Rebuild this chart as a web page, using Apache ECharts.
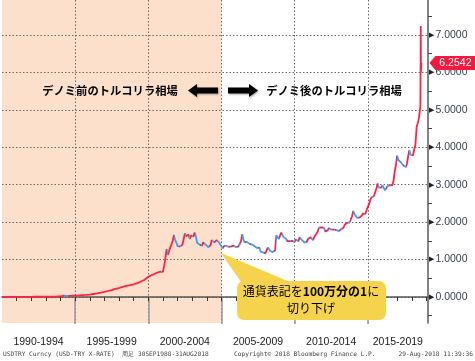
<!DOCTYPE html>
<html><head><meta charset="utf-8">
<script src="https://cdn.jsdelivr.net/npm/echarts@6/dist/echarts.min.js"></script>
<style>html,body{margin:0;padding:0;background:#fff}#c{width:475px;height:361px}</style>
</head><body><div id="c"></div>
<script>
// ---- data (USD/TRY, in new lira) ----
const dates = [
'1990-01','1990-04','1990-07','1990-10','1991-01','1991-04','1991-07','1991-10',
'1992-01','1992-04','1992-07','1992-10','1993-01','1993-04','1993-07','1993-10',
'1994-01','1994-04','1994-07','1994-10','1995-01','1995-04','1995-07','1995-10',
'1996-01','1996-04','1996-07','1996-10','1997-01','1997-04','1997-07','1997-10',
'1998-01','1998-04','1998-07','1998-10','1999-01','1999-04','1999-07','1999-10',
'2000-01','2000-02','2000-03','2000-04','2000-05','2000-06','2000-07','2000-08','2000-09','2000-10','2000-11','2000-12',
'2001-01','2001-02-15','2001-02-22','2001-03','2001-04','2001-05','2001-06','2001-07','2001-08','2001-09','2001-10','2001-11','2001-12',
'2002-01','2002-02','2002-03','2002-04','2002-05','2002-06','2002-07','2002-08','2002-09','2002-10','2002-11','2002-12',
'2003-01','2003-02','2003-03','2003-04','2003-05','2003-06','2003-07','2003-08','2003-09','2003-10','2003-11','2003-12',
'2004-01','2004-02','2004-03','2004-04','2004-05','2004-06','2004-07','2004-08','2004-09','2004-10','2004-11','2004-12',
'2005-01','2005-02','2005-03','2005-04','2005-05','2005-06','2005-07','2005-08','2005-09','2005-10','2005-11','2005-12',
'2006-01','2006-02','2006-03','2006-04','2006-05','2006-06','2006-07','2006-08','2006-09','2006-10','2006-11','2006-12',
'2007-01','2007-02','2007-03','2007-04','2007-05','2007-06','2007-07','2007-08','2007-09','2007-10','2007-11','2007-12',
'2008-01','2008-02','2008-03','2008-04','2008-05','2008-06','2008-07','2008-08','2008-09','2008-10','2008-11','2008-12',
'2009-01','2009-02','2009-03','2009-04','2009-05','2009-06','2009-07','2009-08','2009-09','2009-10','2009-11','2009-12',
'2010-01','2010-02','2010-03','2010-04','2010-05','2010-06','2010-07','2010-08','2010-09','2010-10','2010-11','2010-12',
'2011-01','2011-02','2011-03','2011-04','2011-05','2011-06','2011-07','2011-08','2011-09','2011-10','2011-11','2011-12',
'2012-01','2012-02','2012-03','2012-04','2012-05','2012-06','2012-07','2012-08','2012-09','2012-10','2012-11','2012-12',
'2013-01','2013-02','2013-03','2013-04','2013-05','2013-06','2013-07','2013-08','2013-09','2013-10','2013-11','2013-12',
'2014-01','2014-02','2014-03','2014-04','2014-05','2014-06','2014-07','2014-08','2014-09','2014-10','2014-11','2014-12',
'2015-01','2015-02','2015-03','2015-04','2015-05','2015-06','2015-07','2015-08','2015-09','2015-10','2015-11','2015-12',
'2016-01','2016-02','2016-03','2016-04','2016-05','2016-06','2016-07','2016-08','2016-09','2016-10','2016-11','2016-12',
'2017-01','2017-02','2017-03','2017-04','2017-05','2017-06','2017-07','2017-08','2017-09','2017-10','2017-11','2017-12',
'2018-01','2018-02','2018-03','2018-04','2018-05','2018-06','2018-07','2018-08-03','2018-08-10','2018-08-13','2018-08-17','2018-08-24','2018-08-29'
];
const usdtry = [
0.0023,0.0025,0.0026,0.0028,0.0030,0.0036,0.0040,0.0047,
0.0051,0.0061,0.0068,0.0075,0.0087,0.0096,0.0115,0.0130,
0.0150,0.0340,0.0315,0.0345,0.0390,0.0430,0.0500,0.0560,
0.0650,0.0800,0.0950,0.1150,0.1350,0.1600,0.1850,0.2150,
0.2400,0.2700,0.2950,0.3150,0.3400,0.3700,0.4150,0.4600,
0.54,0.56,0.57,0.59,0.60,0.61,0.63,0.64,0.66,0.67,0.68,0.67,
0.67,0.68,0.96,1.05,1.28,1.12,1.22,1.33,1.40,1.50,1.66,1.52,1.45,
1.36,1.35,1.35,1.33,1.40,1.55,1.70,1.62,1.65,1.67,1.55,1.64,
1.67,1.62,1.72,1.62,1.45,1.42,1.40,1.40,1.37,1.46,1.50,1.40,
1.38,1.33,1.31,1.38,1.52,1.48,1.46,1.50,1.52,1.48,1.46,1.40,
1.35,1.30,1.36,1.39,1.37,1.35,1.34,1.35,1.35,1.36,1.37,1.35,
1.33,1.32,1.35,1.33,1.50,1.68,1.53,1.46,1.51,1.47,1.46,1.42,
1.42,1.40,1.39,1.36,1.34,1.31,1.28,1.32,1.22,1.20,1.19,1.17,
1.17,1.21,1.32,1.28,1.23,1.22,1.20,1.17,1.25,1.65,1.60,1.55,
1.64,1.72,1.76,1.60,1.56,1.55,1.49,1.49,1.49,1.45,1.50,1.51,
1.47,1.54,1.53,1.49,1.59,1.57,1.52,1.51,1.45,1.42,1.48,1.55,
1.60,1.60,1.55,1.52,1.60,1.62,1.70,1.76,1.85,1.83,1.86,1.90,
1.85,1.75,1.78,1.78,1.84,1.81,1.80,1.79,1.80,1.79,1.79,1.78,
1.76,1.78,1.81,1.80,1.85,1.93,1.93,1.98,2.03,1.99,2.02,2.15,
2.30,2.22,2.20,2.12,2.08,2.12,2.14,2.17,2.23,2.24,2.22,2.33,
2.33,2.48,2.60,2.66,2.65,2.70,2.70,2.90,3.03,2.92,2.87,2.92,
2.98,2.93,2.85,2.83,2.95,2.92,2.99,2.95,2.98,3.09,3.35,3.52,
3.78,3.66,3.64,3.60,3.55,3.52,3.55,3.47,3.55,3.75,3.92,3.80,
3.76,3.78,3.94,4.06,4.55,4.65,4.80,5.10,6.43,7.24,6.02,6.05,6.2542
];
const yLabelValues = [0, 1, 2, 3, 4, 5, 6, 7];
const yMinorTicks = [-0.5, 0.5, 1.5, 2.5, 3.5, 4.5, 5.5, 6.5, 7.5];
const xPeriodStarts = [1990, 1995, 2000, 2005, 2010, 2015];
const xPeriodLabels = ['1990-1994', '1995-1999', '2000-2004', '2005-2009', '2010-2014', '2015-2019'];
const xMajorTicks = [1995, 2000, 2005, 2010, 2015];
const xYearTicks = [1991,1992,1993,1994,1995,1996,1997,1998,1999,2000,2001,2002,2003,2004,2005,2006,2007,2008,2009,2010,2011,2012,2013,2014,2015,2016,2017,2018,2019];
const lastPrice = 6.2542;
const redenomRange = [1990, 2005];

// ---- build ----
function toYear(s) {
  const p = s.split('-');
  const y = +p[0], m = +p[1], d = p[2] ? +p[2] : 1;
  return y + (m - 1) / 12 + (d - 1) / 365;
}
const xs = dates.map(toYear);
const seriesData = xs.map((x, i) => [x, usdtry[i]]);

// falling segments drawn in blue
const pieces = [];
let start = null;
for (let i = 1; i < xs.length; i++) {
  const falling = usdtry[i] < usdtry[i - 1];
  if (falling && start === null) start = xs[i - 1];
  if (!falling && start !== null) { pieces.push({ gte: start, lte: xs[i - 1], color: '#3f9ff0' }); start = null; }
}
if (start !== null) pieces.push({ gte: start, lte: xs[xs.length - 1], color: '#3f9ff0' });

const chart = echarts.init(document.getElementById('c'), null, { renderer: 'canvas' });
const dotted = { type: [1.5, 2], color: '#6a6a6a', width: 1 };
const jpFont = '"Noto Sans CJK JP", sans-serif';

chart.setOption({
  animation: false,
  backgroundColor: '#fff',
  grid: { left: 2, right: 47, top: 0, bottom: 38, containLabel: false },
  xAxis: [{
    type: 'value', min: 1990, max: 2019.11,
    axisLine: { show: true, lineStyle: { color: '#555', width: 1.5 } },
    axisTick: { show: true, customValues: xMajorTicks, length: 27, lineStyle: { color: '#999', width: 1.5 } },
    splitLine: { show: true, lineStyle: dotted },
    axisLabel: {
      customValues: xPeriodStarts, margin: 14, hideOverlap: false,
      formatter: v => {
        const i = xPeriodStarts.indexOf(v);
        return (i === xPeriodStarts.length - 1 ? '{b|' : '{a|') + xPeriodLabels[i] + '}';
      },
      rich: {
        a: { fontSize: 10.5, color: '#222', fontFamily: 'Liberation Sans', padding: [0, 0, 0, 73] },
        b: { fontSize: 10.5, color: '#222', fontFamily: 'Liberation Sans', padding: [0, 0, 0, 60] }
      }
    }
  }, {
    type: 'value', min: 1990, max: 2019.11, position: 'bottom',
    axisLine: { show: false },
    axisTick: { show: true, customValues: xYearTicks, length: 4, lineStyle: { color: '#333', width: 1 } },
    axisLabel: { show: false }, splitLine: { show: false }
  }],
  yAxis: [{
    type: 'value', position: 'right', min: -0.695, max: 7.935,
    axisLine: { show: true, lineStyle: { color: '#5a5a5a', width: 1.5 } },
    axisTick: { show: false, customValues: yLabelValues },
    splitLine: { show: true, lineStyle: dotted },
    axisLabel: {
      customValues: yLabelValues, margin: 1,
      formatter: v => '{t|▶}{v|' + v.toFixed(4) + '}',
      rich: {
        t: { fontSize: 7, color: '#222', fontFamily: 'DejaVu Sans', padding: [0, 1, 0, 0] },
        v: { fontSize: 10.5, color: '#3a4352', fontFamily: 'Liberation Sans' }
      }
    }
  }, {
    type: 'value', position: 'right', min: -0.695, max: 7.935,
    axisLine: { show: false },
    axisTick: { show: true, inside: false, customValues: yMinorTicks, length: 4, lineStyle: { color: '#444' } },
    axisLabel: { show: false }, splitLine: { show: false }
  }],
  visualMap: {
    type: 'piecewise', show: false, dimension: 0, seriesIndex: 1,
    pieces: pieces, outOfRange: { color: '#ff2244' }
  },
  series: [{
    type: 'line', data: [], z: -1, silent: true,
    markArea: {
      z: -1, silent: true,
      itemStyle: { color: '#fde0cc' },
      data: [[{ xAxis: redenomRange[0] }, { xAxis: redenomRange[1] }]]
    }
  }, {
    type: 'line', data: seriesData, showSymbol: false, z: 3,
    lineStyle: { width: 1.8 },
    markPoint: {
      silent: true,
      data: [{
        coord: [xs[xs.length - 1], lastPrice],
        symbol: 'path://M0,7 L6,0 L46,0 L46,14 L6,14 Z',
        symbolSize: [46, 14], symbolKeepAspect: false,
        symbolOffset: [31, 0],
        itemStyle: { color: '#f5183c' },
        label: { show: true, formatter: lastPrice.toFixed(4), color: '#fff', fontSize: 10.5, fontFamily: 'Liberation Sans', offset: [3, 0] }
      }]
    }
  }],
  graphic: [
    { type: 'text', x: 110, y: 91, style: { text: 'デノミ前のトルコリラ相場', font: 'bold 11.3px ' + jpFont, fill: '#000', align: 'center', verticalAlign: 'middle' } },
    { type: 'text', x: 334, y: 91, style: { text: 'デノミ後のトルコリラ相場', font: 'bold 11.3px ' + jpFont, fill: '#000', align: 'center', verticalAlign: 'middle' } },
    { type: 'polygon', shape: { points: [[188, 90.5], [197, 84], [197, 87.5], [218, 87.5], [218, 93.5], [197, 93.5], [197, 97]] }, style: { fill: '#000', shadowBlur: 2, shadowColor: 'rgba(0,0,0,0.35)', shadowOffsetX: 1, shadowOffsetY: 1 } },
    { type: 'polygon', shape: { points: [[258, 90.5], [249, 84], [249, 87.5], [228, 87.5], [228, 93.5], [249, 93.5], [249, 97]] }, style: { fill: '#000', shadowBlur: 2, shadowColor: 'rgba(0,0,0,0.35)', shadowOffsetX: 1, shadowOffsetY: 1 } },
    { type: 'polygon', z: 10, shape: { points: [[221, 253], [241, 282], [290, 282]] }, style: { fill: '#f6d34c' } },
    { type: 'rect', z: 10, shape: { x: 237, y: 281, width: 149, height: 39, r: 7 }, style: { fill: '#f6d34c' } },
    { type: 'text', z: 11, x: 311, y: 300, style: {
        text: '{a|通貨表記を}{b|100万分の1}{a|に}\n{a|切り下げ}',
        align: 'center', verticalAlign: 'middle', lineHeight: 17,
        rich: {
          a: { font: '12px ' + jpFont, fill: '#000', lineHeight: 17 },
          b: { font: 'bold 12px ' + jpFont, fill: '#000', lineHeight: 17 }
        } } },
    { type: 'text', x: 3, y: 354, style: { text: 'USDTRY Curncy (USD-TRY X-RATE)  周足 30SEP1988-31AUG2018', font: '6.2px "DejaVu Sans Mono", monospace', fill: '#444', verticalAlign: 'middle' } },
    { type: 'text', x: 234, y: 354, style: { text: 'Copyright© 2018 Bloomberg Finance L.P.', font: '6.2px "DejaVu Sans Mono", monospace', fill: '#444', verticalAlign: 'middle' } },
    { type: 'text', x: 473, y: 354, style: { text: '29-Aug-2018 11:39:36', font: '6.2px "DejaVu Sans Mono", monospace', fill: '#444', align: 'right', verticalAlign: 'middle' } }
  ]
});
</script>
</body></html>
